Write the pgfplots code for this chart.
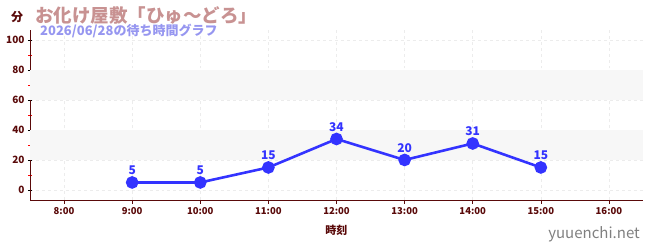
\documentclass[border=0pt]{standalone}
\usepackage{fontspec}
\setmainfont{Noto Sans CJK JP}
\usepackage{pgfplots}
\pgfplotsset{compat=1.18}
\definecolor{axred}{RGB}{90,10,10}
\definecolor{ttl}{RGB}{200,146,146}
\definecolor{sub}{RGB}{150,150,240}
\definecolor{ser}{RGB}{51,51,255}
\definecolor{band}{RGB}{247,247,247}
\begin{document}
\begin{tikzpicture}
\path[use as bounding box] (0,0) rectangle (650bp,250bp);
\begin{axis}[
  at={(30bp,50bp)}, anchor=south west,
  scale only axis, width=613bp, height=170bp,
  xmin=7.5, xmax=16.5, ymin=-6.7, ymax=106.7,
  axis lines*=left,
  axis line style={axred, line width=0.8pt},
  xtick={8,...,16},
  xticklabels={8:00,9:00,10:00,11:00,12:00,13:00,14:00,15:00,16:00},
  ytick={0,20,...,100},
  minor ytick={10,30,...,90},
  x tick style={axred, line width=0.6pt},
  y tick style={black, line width=0.6pt},
  minor y tick style={red, line width=0.6pt},
  xtick align=outside,
  ytick align=center,
  major tick length=4bp,
  minor tick length=3bp,
  grid=major,
  major grid style={dashed, gray!15, line width=0.5pt},
  x tick label style={font=\fontsize{9.5bp}{10bp}\selectfont\bfseries, text=axred},
  y tick label style={font=\fontsize{10bp}{11bp}\selectfont\bfseries, text=axred},
  /pgf/number format/assume math mode=true,
  xlabel={時刻},
  xlabel style={font=\fontsize{11bp}{12bp}\selectfont\bfseries, text=axred, yshift=-4bp},
  clip=false,
  axis on top=false,
]
\fill[band] (axis cs:7.5,20) rectangle (axis cs:16.5,40);
\fill[band] (axis cs:7.5,60) rectangle (axis cs:16.5,80);
\addplot[ser, line width=2.6pt, mark=*, mark size=5bp, mark options={solid, fill=ser},
  nodes near coords, point meta=explicit symbolic,
  every node near coord/.style={font=\fontsize{12bp}{13bp}\selectfont\bfseries, text=ser, anchor=south, yshift=3bp}]
 table[meta=l] {
x y l
9 5 5
10 5 5
11 15 15
12 34 34
13 20 20
14 31 31
15 15 15
};
\end{axis}
\node[anchor=base west, text=ttl, inner sep=0pt, font=\fontsize{18.5bp}{19bp}\selectfont\bfseries] at (35bp,227bp) {お化け屋敷「ひゅ〜どろ」};
\node[anchor=base west, text=sub, inner sep=0pt, font=\fontsize{13bp}{14bp}\selectfont\bfseries] at (40bp,214bp) {2026/06/28の待ち時間グラフ};
\node[text=axred, inner sep=0pt, font=\fontsize{12bp}{13bp}\selectfont\bfseries] at (17bp,233bp) {分};
\node[anchor=east, text=gray, inner sep=0pt, font=\fontsize{15bp}{16bp}\selectfont] at (640bp,16bp) {yuuenchi.net};
\end{tikzpicture}
\end{document}
